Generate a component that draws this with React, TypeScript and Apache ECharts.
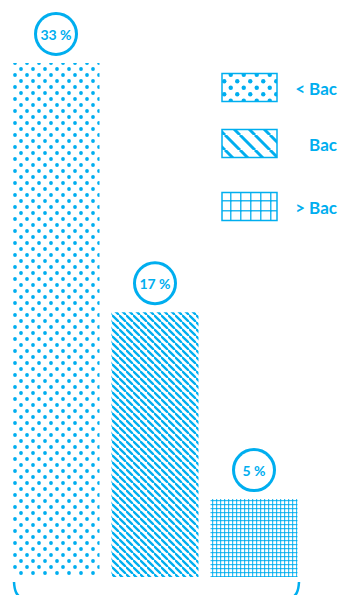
import React, { useEffect, useRef } from 'react';
import * as echarts from 'echarts';

const categories = ['< Bac', 'Bac', '> Bac'];
const values = [33, 17, 5];
const legendLabels = ['< Bac', 'Bac', '> Bac'];
const BLUE = '#00AEEF';
const FONT = 'Lato, "Noto Sans", sans-serif';

function makeCanvas(w: number, h: number, draw: (ctx: CanvasRenderingContext2D) => void) {
  const c = document.createElement('canvas');
  c.width = w;
  c.height = h;
  const ctx = c.getContext('2d') as CanvasRenderingContext2D;
  draw(ctx);
  return c;
}

function dots(tile: number, r: number) {
  return makeCanvas(tile, tile, (ctx) => {
    ctx.fillStyle = BLUE;
    const pts = [
      [tile / 4, tile / 4],
      [(3 * tile) / 4, (3 * tile) / 4],
    ];
    for (const [x, y] of pts) {
      ctx.beginPath();
      ctx.arc(x, y, r, 0, Math.PI * 2);
      ctx.fill();
    }
  });
}

function diag(s: number, w: number) {
  return makeCanvas(s, s, (ctx) => {
    ctx.strokeStyle = BLUE;
    ctx.lineWidth = w;
    ctx.beginPath();
    for (const k of [-s, 0, s]) {
      ctx.moveTo(k, 0);
      ctx.lineTo(k + s, s);
    }
    ctx.stroke();
  });
}

function gridPat(s: number, w: number, alpha: number) {
  return makeCanvas(s, s, (ctx) => {
    ctx.fillStyle = `rgba(0,174,239,${alpha})`;
    ctx.fillRect(0, 0, s, w);
    ctx.fillRect(0, 0, w, s);
    ctx.fillStyle = BLUE;
    ctx.fillRect(0, 0, w, w);
  });
}

export default function App() {
  const ref = useRef<HTMLDivElement>(null);
  useEffect(() => {
    document.body.style.margin = '0';
    const chart = echarts.init(ref.current as HTMLDivElement, null, { renderer: 'svg' });
    const barPatterns = [dots(12, 1.9), diag(7.5, 2.3), gridPat(4, 1.2, 0.8)];
    const legendPatterns = [dots(13, 2.2), diag(15, 3), gridPat(10, 1.5, 0.85)];
    const legendY = [73.5, 129.5, 192.5];

    const graphic: any[] = [];
    legendLabels.forEach((lab, i) => {
      graphic.push({
        type: 'rect',
        shape: { x: 222, y: legendY[i], width: 55, height: 28 },
        style: { fill: { image: legendPatterns[i], repeat: 'repeat' }, stroke: BLUE, lineWidth: 1.5 },
      });
      graphic.push({
        type: 'text',
        style: {
          text: lab,
          x: 337,
          y: legendY[i] + 14.5,
          align: 'right',
          verticalAlign: 'middle',
          textAlign: 'right',
          textVerticalAlign: 'middle',
          fill: BLUE,
          fontSize: 17,
          fontWeight: 'bold',
          fontFamily: FONT,
        },
      });
    });
    graphic.push({
      type: 'bezierCurve',
      shape: { x1: 14, y1: 582, cpx1: 14.5, cpy1: 592, cpx2: 17, cpy2: 595, x2: 21, y2: 598 },
      style: { stroke: BLUE, lineWidth: 2.5, fill: 'none' },
    });
    graphic.push({
      type: 'bezierCurve',
      shape: { x1: 299, y1: 582, cpx1: 298.5, cpy1: 592, cpx2: 296, cpy2: 595, x2: 292, y2: 598 },
      style: { stroke: BLUE, lineWidth: 2.5, fill: 'none' },
    });

    chart.setOption({
      animation: false,
      grid: { left: 6.5, width: 297, top: 63, bottom: 18 },
      xAxis: {
        type: 'category',
        data: categories,
        show: false,
      },
      yAxis: { type: 'value', min: 0, max: 33, show: false },
      series: [
        {
          type: 'bar',
          barWidth: 87,
          data: values.map((v, i) => ({
            value: v,
            itemStyle: { color: { image: barPatterns[i], repeat: 'repeat' } },
          })),
          label: {
            show: true,
            position: 'top',
            distance: 10,
            formatter: '{c} %',
            color: BLUE,
            fontSize: 14,
            fontWeight: 'bold',
            fontFamily: FONT,
            backgroundColor: '#fff',
            borderColor: BLUE,
            borderWidth: 3,
            borderRadius: 19,
            width: 38,
            height: 38,
            lineHeight: 38,
            align: 'center',
            padding: 0,
          },
        },
      ],
      graphic,
    });
    return () => chart.dispose();
  }, []);
  return <div ref={ref} style={{ position: 'absolute', left: 0, top: 0, width: 338, height: 595 }} />;
}
